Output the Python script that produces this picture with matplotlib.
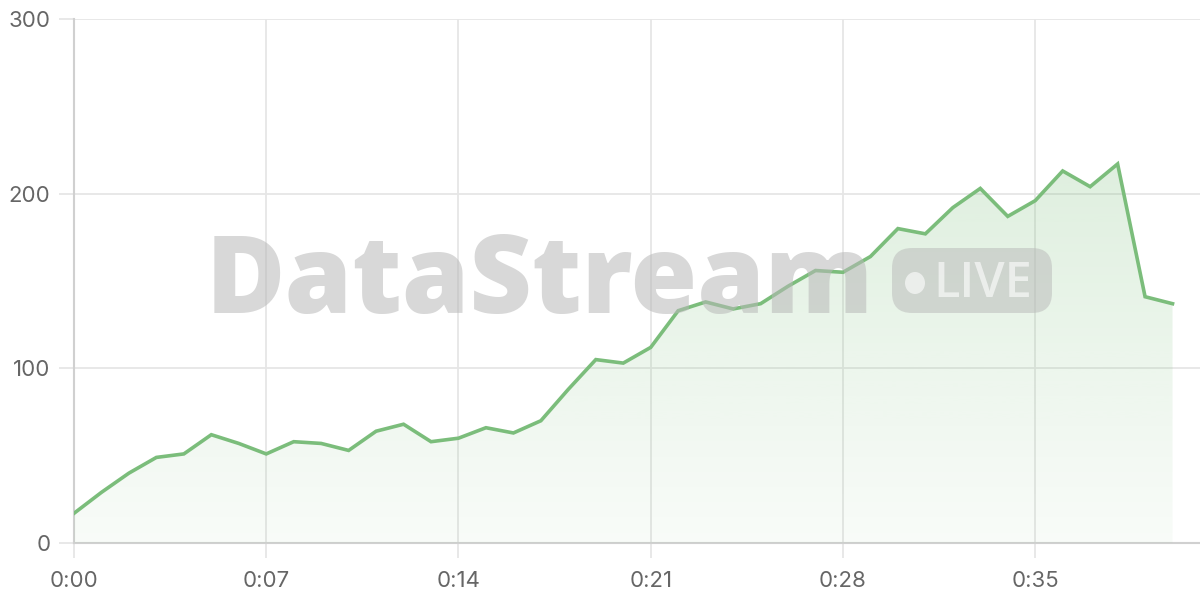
import matplotlib
matplotlib.use("Agg")
import matplotlib.pyplot as plt
import numpy as np
from matplotlib.patches import FancyBboxPatch, Ellipse, Polygon
from matplotlib.transforms import IdentityTransform

# data (one point per minute)
minutes = list(range(41))
values = [17, 29, 40, 49, 51, 62, 57, 51, 58, 57,
          53, 64, 68, 58, 60, 66, 63, 70, 88, 105,
          103, 112, 133, 138, 134, 137, 147, 156, 155, 164,
          180, 177, 192, 203, 187, 196, 213, 204, 217, 141,
          137]
xtick_pos = [0, 7, 14, 21, 28, 35]
xtick_labels = ["0:00", "0:07", "0:14", "0:21", "0:28", "0:35"]
ytick_pos = [0, 100, 200, 300]
ytick_labels = ["0", "100", "200", "300"]

line_col = "#7bbd7b"
grid_col = "#e6e6e6"
text_col = "#666666"

plt.rcParams["font.family"] = ["Inter", "DejaVu Sans"]

fig = plt.figure(figsize=(12, 6), dpi=100)
ax = fig.add_axes([74 / 1200, 57 / 600, 1 - 74 / 1200, 524 / 600])
ax.set_xlim(0, 41)
ax.set_ylim(0, 300)

x = np.array(minutes, dtype=float)
y = np.array(values, dtype=float)

# gradient fill under the line
grad = np.linspace(0.05, 0.32, 256).reshape(-1, 1)
rgba = np.zeros((256, 1, 4))
rgba[..., 0] = 124 / 255
rgba[..., 1] = 191 / 255
rgba[..., 2] = 124 / 255
rgba[..., 3] = grad
im = ax.imshow(rgba, extent=[0, 41, 0, 300], origin="lower", aspect="auto", zorder=3)
poly = Polygon(np.column_stack([np.r_[x[0], x, x[-1]], np.r_[0, y, 0]]),
               closed=True, facecolor="none", edgecolor="none")
ax.add_patch(poly)
im.set_clip_path(poly)

ax.plot(x, y, color=line_col, lw=2.6, zorder=5, solid_joinstyle="miter")

# grid and axes
ax.set_xticks(xtick_pos)
ax.set_xticklabels(xtick_labels)
ax.set_yticks(ytick_pos)
ax.set_yticklabels(ytick_labels)
ax.grid(True, color=grid_col, lw=1.3, zorder=0)
ax.set_axisbelow(True)
ax.tick_params(axis="both", length=11, width=1.3, color=grid_col,
               labelcolor=text_col, labelsize=16)
ax.tick_params(axis="x", pad=9)
ax.tick_params(axis="y", pad=6)
for s in ["top", "right"]:
    ax.spines[s].set_visible(False)
ax.spines["left"].set_color("#d0d0d0")
ax.spines["bottom"].set_color("#d0d0d0")
ax.spines["left"].set_linewidth(1.5)
ax.spines["bottom"].set_linewidth(1.5)

# watermark (pixel coordinates, origin bottom left)
H = 600
fig.text(540 / 1200, (H - 313) / H, "DataStream", ha="center", va="baseline",
         fontsize=78, fontweight=800, family="Open Sans",
         color="#b8b8b8", alpha=0.55, zorder=2)
badge = FancyBboxPatch((892, H - 313), 160, 65,
                       boxstyle="round,pad=0,rounding_size=20",
                       transform=IdentityTransform(), facecolor="#b8b8b8",
                       edgecolor="none", alpha=0.5, zorder=2)
fig.patches.append(badge)
dot = Ellipse((915, H - 283), 20, 22, transform=IdentityTransform(),
              facecolor="white", edgecolor="none", alpha=0.6, zorder=3)
fig.patches.append(dot)
fig.text(983 / 1200, (H - 297) / H, "LIVE", ha="center", va="baseline",
         fontsize=35, fontweight=600, family="Open Sans", color="white",
         alpha=0.6, zorder=3)

fig.savefig("out.png", dpi=100)
